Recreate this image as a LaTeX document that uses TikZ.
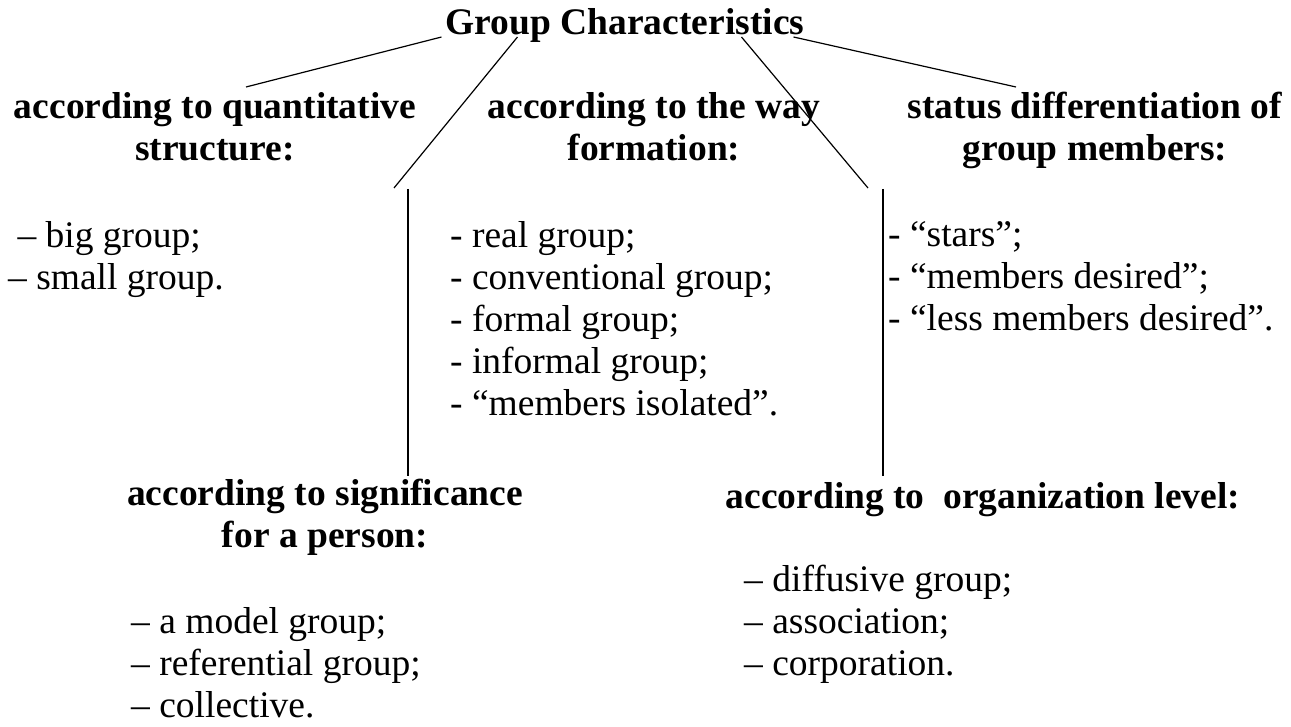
\documentclass[tikz,border=0pt]{standalone}
\usepackage{fontspec}
\setmainfont{Liberation Serif}

\begin{document}
\begin{tikzpicture}[x=1pt, y=-1pt,
  every node/.style={inner sep=0pt, font=\fontsize{37.5}{42}\selectfont,
    execute at begin node=\strut},
  head/.style={font=\fontsize{37.5}{42}\selectfont\bfseries, align=center, anchor=north},
  list/.style={align=left, anchor=north west},
  link/.style={line width=1.2pt}]
  \useasboundingbox (0,0) rectangle (1291,727);
  \node[head, anchor=base] (title) at (625,35) {Group Characteristics};
  \node[head] (quant) at (215,92) {according to quantitative\\structure:};
  \node[head] (way) at (654,92) {according to the way\\formation:};
  \node[head] (status) at (1095,92) {status differentiation of\\group members:};
  \node[head] (signif) at (325,479) {according to significance\\for a person:};
  \node[head] (level) at (983,479) {according to\ \ organization level:};
  \node[list] (qlist) at (8,221) {\ – big group;\\– small group.};
  \node[list] (wlist) at (450,221) {- real group;\\- conventional group;\\- formal group;\\- informal group;\\- “members isolated”.};
  \node[list] (slist) at (888,221) {- “stars”;\\- “members desired”;\\- “less members desired”.};
  \node[list] (plist) at (131,607) {– a model group;\\– referential group;\\– collective.};
  \node[list] (llist) at (744,565) {– diffusive group;\\– association;\\– corporation.};
  % free ends of the connectors
  \coordinate (q-end) at (246,87);
  \coordinate (s-end) at (1016,87);
  \coordinate (p-end) at (394,188);
  \coordinate (l-end) at (868,188);
  \coordinate (p-top) at (408,189);
  \coordinate (p-bot) at (408,476);
  \coordinate (l-top) at (883,189);
  \coordinate (l-bot) at (883,476);
  \draw[link] ([xshift=-4pt,yshift=-2pt]title.base west) -- (q-end);
  \draw[link] ([xshift=72pt,yshift=-2pt]title.base west) -- (p-end);
  \draw[link] ([xshift=296pt,yshift=-2pt]title.base west) -- (l-end);
  \draw[link] ([xshift=-11pt,yshift=-2pt]title.base east) -- (s-end);
  \draw[link] (p-top) -- (p-bot);
  \draw[link] (l-top) -- (l-bot);
\end{tikzpicture}
\end{document}
